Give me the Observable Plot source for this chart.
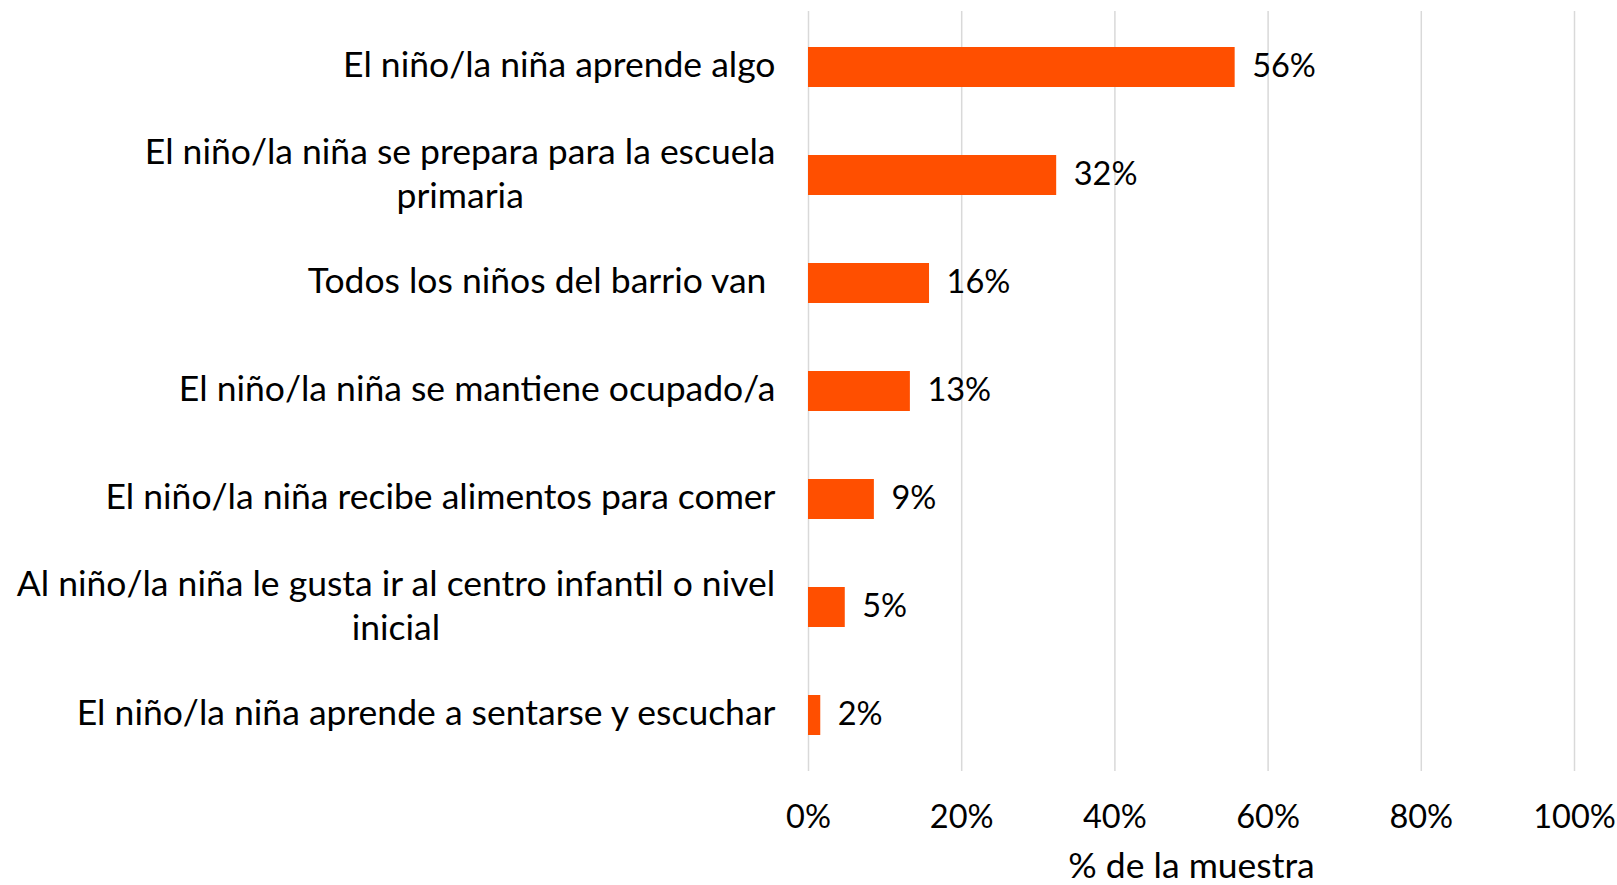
<!DOCTYPE html>
<html><head><meta charset="utf-8">
<script src="https://cdn.jsdelivr.net/npm/d3@7"></script>
<script src="https://cdn.jsdelivr.net/npm/@observablehq/plot@0.6"></script>
<style>html,body{margin:0;padding:0;background:#fff;}</style>
</head><body><div id="chart"></div>
<script>
const categories = [
  "El niño/la niña aprende algo",
  "El niño/la niña se prepara para la escuela primaria",
  "Todos los niños del barrio van",
  "El niño/la niña se mantiene ocupado/a",
  "El niño/la niña recibe alimentos para comer",
  "Al niño/la niña le gusta ir al centro infantil o nivel inicial",
  "El niño/la niña aprende a sentarse y escuchar"
];
const categoryLines = [
  ["El niño/la niña aprende algo"],
  ["El niño/la niña se prepara para la escuela", "primaria"],
  ["Todos los niños del barrio van\u00a0"],
  ["El niño/la niña se mantiene ocupado/a"],
  ["El niño/la niña recibe alimentos para comer"],
  ["Al niño/la niña le gusta ir al centro infantil o nivel", "inicial"],
  ["El niño/la niña aprende a sentarse y escuchar"]
];
const values = [55.7, 32.4, 15.8, 13.3, 8.6, 4.8, 1.6];
const valueLabels = ["56%", "32%", "16%", "13%", "9%", "5%", "2%"];
const xTicks = [0, 20, 40, 60, 80, 100];
const xTickLabels = ["0%", "20%", "40%", "60%", "80%", "100%"];
const xLabel = "% de la muestra";

const FONT = "Lato, 'Open Sans', sans-serif";
const FS = 35.5;   // words
const FN = 32.5;   // numbers
const LABEL_GAP = 33;

const data = categories.map((c, i) => ({cat: c, v: values[i], lab: valueLabels[i], lines: categoryLines[i]}));

const ctx = document.createElement("canvas").getContext("2d");
ctx.font = `${FS}px Lato`;
const measure = s => ctx.measureText(s).width;

const singles = data.filter(d => d.lines.length === 1);
const multis = data.filter(d => d.lines.length > 1);

const labelMarks = [
  Plot.text(singles, {y: "cat", text: d => d.lines[0], frameAnchor: "left", textAnchor: "end", dx: -LABEL_GAP, dy: -2, fontSize: FS, fill: "#000"}),
  ...multis.map(d => Plot.text([d], {
    y: "cat", text: e => e.lines.join("\n"), frameAnchor: "left", textAnchor: "middle",
    dx: -LABEL_GAP - measure(d.lines[0]) / 2, dy: -3.5, lineHeight: 1.22, lineAnchor: "middle", fontSize: FS, fill: "#000"
  }))
];

const chart = Plot.plot({
  width: 1617, height: 885,
  marginLeft: 808, marginRight: 43, marginTop: 11, marginBottom: 114,
  style: {fontFamily: FONT, fontSize: FN + "px", color: "#000", background: "#fff"},
  x: {domain: [0, 100], label: null},
  y: {domain: categories, paddingInner: 0.63, paddingOuter: 0.315, label: null, axis: null},
  marks: [
    Plot.gridX(xTicks, {stroke: "#d9d9d9", strokeOpacity: 1, strokeWidth: 1.5}),
    Plot.barX(data, {x: "v", y: "cat", fill: "#FF4F00"}),
    Plot.text(data, {x: "v", y: "cat", text: "lab", textAnchor: "start", dx: 17, dy: -1, fontSize: FN, fill: "#000"}),
    Plot.axisX({ticks: xTicks, tickFormat: d => xTickLabels[xTicks.indexOf(d)], tickSize: 0, tickPadding: 33, fontSize: FN, label: null}),
    Plot.text([xLabel], {frameAnchor: "bottom", dy: 95, lineAnchor: "middle", fontSize: FS, fill: "#000"}),
    ...labelMarks
  ]
});
document.getElementById("chart").appendChild(chart);
</script>
</body></html>
